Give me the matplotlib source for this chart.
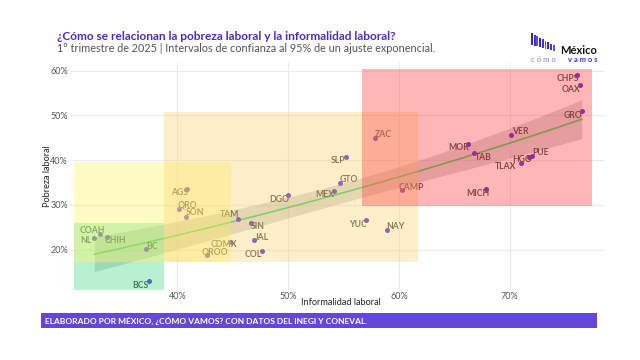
import matplotlib.pyplot as plt
import numpy as np
from matplotlib.patches import Rectangle

plt.rcParams['font.family'] = ['Lato', 'DejaVu Sans']

# Datos por entidad (1er trimestre 2025)
estados = ['AGS', 'QRO', 'SON', 'TAM', 'SIN', 'JAL', 'CDMX', 'QROO', 'COAH', 'NL',
           'CHIH', 'BC', 'BCS', 'COL', 'ZAC', 'SLP', 'GTO', 'MEX', 'DGO', 'CAMP',
           'YUC', 'NAY', 'CHPS', 'OAX', 'GRO', 'VER', 'MOR', 'TAB', 'PUE', 'HGO',
           'TLAX', 'MICH']
informalidad = np.array([40.9, 40.1, 40.8, 45.5, 46.6, 46.9, 44.7, 42.7, 33.0, 32.5,
                         33.6, 37.2, 37.4, 47.6, 57.8, 55.2, 54.7, 54.1, 50.0, 60.3,
                         57.0, 58.9, 76.1, 76.3, 76.5, 70.1, 66.2, 66.8, 72.0, 71.7,
                         71.0, 67.9])
pobreza = np.array([33.6, 29.1, 27.3, 26.9, 25.9, 22.1, 21.8, 18.8, 23.6, 22.5,
                    22.9, 20.2, 13.0, 19.8, 45.0, 40.8, 34.9, 33.2, 32.1, 33.3,
                    26.6, 24.5, 59.0, 56.7, 50.9, 45.6, 43.6, 41.5, 41.0, 40.6,
                    39.4, 33.5])

# Regiones sombreadas (x0, x1, y0, y1)
reg_x0 = [30.7, 30.7, 38.8, 56.7]
reg_x1 = [38.8, 44.8, 61.7, 77.4]
reg_y0 = [11.1, 17.3, 17.3, 29.8]
reg_y1 = [26.0, 39.6, 50.8, 60.4]
reg_col = ['#46d989', '#fff761', '#fad775', '#ff4141']

# desplazamiento de etiquetas (pixeles)
offs = {
    'AGS': (-8, 4), 'QRO': (9, -4), 'SON': (9, -4), 'TAM': (-9, -4), 'SIN': (7, 3),
    'JAL': (8, -3), 'CDMX': (-6, 3), 'QROO': (8, -3), 'COAH': (-8, -3), 'NL': (-8, 2),
    'CHIH': (9, 4), 'BC': (6, -2), 'BCS': (-8, 4), 'COL': (-8, 4), 'ZAC': (9, -3),
    'SLP': (-8, 4), 'GTO': (9, -3), 'MEX': (-9, 4), 'DGO': (-9, 4), 'CAMP': (9, -3),
    'YUC': (-8, 4), 'NAY': (9, -3), 'CHPS': (-9, 4), 'OAX': (-9, 4), 'GRO': (-9, 4),
    'VER': (9, -4), 'MOR': (-9, 4), 'TAB': (9, 4), 'PUE': (9, -3), 'HGO': (-6, 2),
    'TLAX': (-15, 4), 'MICH': (-9, 4),
}

# Ajuste y ~ exp(x) (x en proporcion), minimos cuadrados, IC 95%
z = np.exp(informalidad / 100)
X = np.column_stack([np.ones_like(z), z])
coef = np.linalg.lstsq(X, pobreza, rcond=None)[0]
res = pobreza - X @ coef
s2 = np.sum(res ** 2) / (len(pobreza) - 2)
cov = s2 * np.linalg.inv(X.T @ X)
xs = np.linspace(informalidad.min(), informalidad.max(), 80)
Xs = np.column_stack([np.ones_like(xs), np.exp(xs / 100)])
ys = Xs @ coef
se = np.sqrt(np.einsum('ij,jk,ik->i', Xs, cov, Xs))
t = 2.042

fig = plt.figure(figsize=(6.4, 3.6), dpi=100)
ax = fig.add_axes([70 / 640, 70 / 360, 535 / 640, 228 / 360])

ax.fill_between(xs, ys - t * se, ys + t * se, color='#999999', alpha=0.4, lw=0, zorder=2)
ax.plot(xs, ys, color='#2ecc55', lw=1.1, zorder=3)

ax.scatter(informalidad, pobreza, s=13, color='#5a1ee0', zorder=4, lw=0)
for est, xv, yv in zip(estados, informalidad, pobreza):
    dx, dy = offs[est]
    ax.annotate(est, (xv, yv), xytext=(dx, -dy), textcoords='offset pixels',
                ha='center', va='center', fontsize=6.2, fontweight='bold',
                color='#454545', zorder=4)

for x0, x1, y0, y1, c in zip(reg_x0, reg_x1, reg_y0, reg_y1, reg_col):
    ax.add_patch(Rectangle((x0, y0), x1 - x0, y1 - y0, color=c, alpha=0.38, lw=0, zorder=5))

ax.set_xlim(30.3, 78.6)
ax.set_ylim(11.0, 61.9)
ax.set_xticks([40, 50, 60, 70])
ax.set_yticks([20, 30, 40, 50, 60])
ax.set_xticklabels(['40%', '50%', '60%', '70%'])
ax.set_yticklabels(['20%', '30%', '40%', '50%', '60%'])
ax.tick_params(length=0, labelsize=6.5, labelcolor='#555555', pad=1.5)
ax.grid(True, color='#ebebeb', lw=0.8)
ax.set_axisbelow(True)
for sp in ax.spines.values():
    sp.set_visible(False)
ax.set_xlabel('Informalidad laboral', fontsize=6.6, color='#222222')
ax.xaxis.set_label_coords((341 - 70) / 535, -0.035)
ax.set_ylabel('Pobreza laboral', fontsize=6.6, color='#222222')
ax.yaxis.set_label_coords(-0.034, 0.5)

# Titulos
fig.text(57 / 640, 1 - 37 / 360, '¿Cómo se relacionan la pobreza laboral y la informalidad laboral?',
         fontsize=8.6, fontweight='bold', color='#4a2bc9', va='center')
fig.text(57 / 640, 1 - 48 / 360, '1° trimestre de 2025 | Intervalos de confianza al 95% de un ajuste exponencial.',
         fontsize=7.8, color='#555555', va='center')

# Logo
for i in range(9):
    x = (531 + 2.7 * i) / 640
    top = 1 - (33 + 1.5 * i) / 360
    bot = 1 - (45 + 0.7 * i) / 360
    fig.patches.append(Rectangle((x, bot), 1.9 / 640, top - bot, transform=fig.transFigure,
                                 color=['#3624cf', '#4433d4', '#5e4edd'][i % 3], lw=0))
fig.text(597 / 640, 1 - 51 / 360, 'México', fontsize=8, fontweight='bold', color='#111111',
         ha='right', va='center')
fig.text(531 / 640, 1 - 60 / 360, 'c ó m o ', fontsize=5.5, color='#8a7ae6', va='center')
fig.text(597 / 640, 1 - 60 / 360, 'v a m o s', fontsize=5.5, fontweight='bold', color='#4a2bc9',
         ha='right', va='center')

# Banda inferior
fig.patches.append(Rectangle((41 / 640, 1 - 328 / 360), 556 / 640, 15.5 / 360,
                             transform=fig.transFigure, color='#6347d9', lw=0))
fig.text(45 / 640, 1 - 320.5 / 360, 'ELABORADO POR MÉXICO, ¿CÓMO VAMOS? CON DATOS DEL INEGI Y CONEVAL.',
         fontsize=6.0, fontweight='bold', color='white', va='center')

fig.savefig('out.png', dpi=100)
